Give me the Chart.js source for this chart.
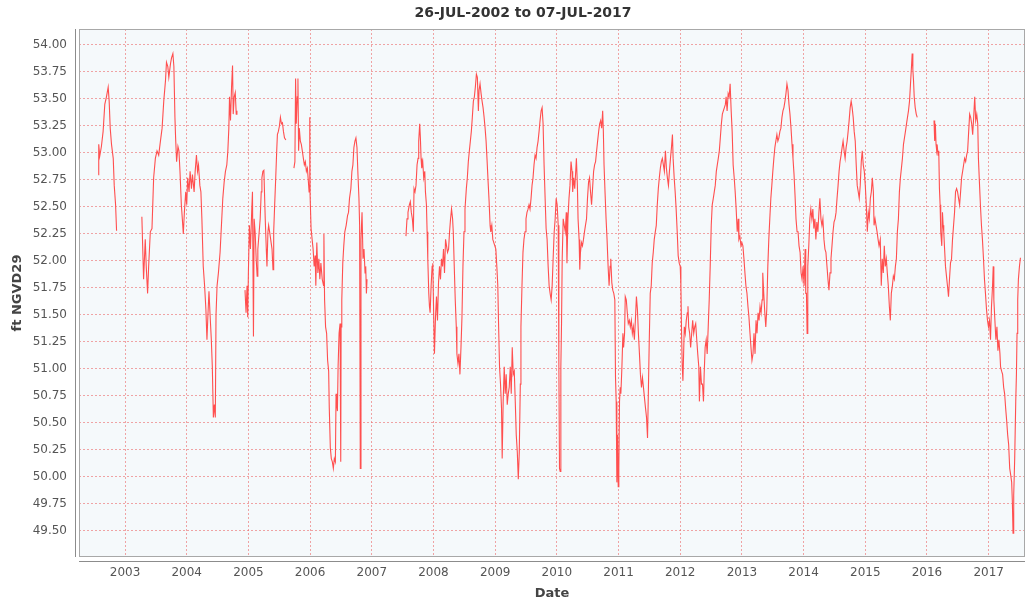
<!DOCTYPE html>
<html>
<head>
<meta charset="utf-8">
<script src="https://cdn.jsdelivr.net/npm/chart.js@4.4.1/dist/chart.umd.min.js"></script>
<style>
  html, body { margin: 0; padding: 0; background: #ffffff; }
  #wrap { width: 1029px; height: 602px; }
</style>
</head>
<body>
<div id="wrap"><canvas id="c" width="1029" height="602"></canvas></div>
<script>
// ---- data: each entry is [decimal year, water level (ft NGVD29)] ----
const chartTitle = '26-JUL-2002 to 07-JUL-2017';
const yAxisTitle = 'ft NGVD29';
const xAxisTitle = 'Date';
const yearTicks = [2003, 2004, 2005, 2006, 2007, 2008, 2009, 2010, 2011, 2012, 2013, 2014, 2015, 2016, 2017];
const levelTicks = [49.5, 49.75, 50, 50.25, 50.5, 50.75, 51, 51.25, 51.5, 51.75, 52, 52.25, 52.5, 52.75, 53, 53.25, 53.5, 53.75, 54];

const run2002 = [
  [2002.566,52.80],[2002.574,53.08],[2002.590,52.97],[2002.617,53.06],[2002.645,53.20],[2002.672,53.45],
  [2002.699,53.52],[2002.727,53.61],[2002.743,53.48],[2002.760,53.23],[2002.781,53.08],[2002.809,52.95],
  [2002.825,52.70],[2002.847,52.52],[2002.863,52.28]
];

const run2003 = [
  [2003.273,52.41],[2003.301,51.83],[2003.328,52.20],[2003.344,51.95],[2003.366,51.70],[2003.383,51.95],
  [2003.410,52.27],[2003.437,52.30],[2003.464,52.77],[2003.492,52.95],[2003.519,53.02],[2003.546,52.98],
  [2003.574,53.11],[2003.601,53.23],[2003.628,53.48],[2003.656,53.67],[2003.672,53.84],[2003.694,53.80],
  [2003.710,53.70],[2003.738,53.83],[2003.754,53.88],[2003.776,53.92],[2003.792,53.80],[2003.809,53.33],
  [2003.820,53.14],[2003.836,52.92],[2003.858,53.06],[2003.874,53.02],[2003.891,52.83],[2003.913,52.52],
  [2003.929,52.39],[2003.945,52.25],[2003.962,52.45],[2003.984,52.64],[2004.000,52.52],[2004.016,52.77],
  [2004.038,52.64],[2004.055,52.83],[2004.077,52.67],[2004.093,52.80],[2004.120,52.64],[2004.137,52.83],
  [2004.158,52.98],[2004.175,52.83],[2004.191,52.89],[2004.213,52.70],[2004.230,52.64],[2004.246,52.39],
  [2004.268,51.95],[2004.290,51.77],[2004.311,51.55],[2004.328,51.27],[2004.344,51.50],[2004.361,51.72],
  [2004.377,51.52],[2004.399,51.27],[2004.415,51.02],[2004.432,50.55],[2004.448,50.67],[2004.464,50.55],
  [2004.475,51.50],[2004.492,51.77],[2004.514,51.89],[2004.541,52.08],[2004.563,52.33],[2004.585,52.58],
  [2004.607,52.73],[2004.628,52.83],[2004.650,52.89],[2004.667,53.02],[2004.683,53.23],[2004.694,53.52],
  [2004.710,53.30],[2004.727,53.61],[2004.743,53.81],[2004.754,53.36],[2004.770,53.52],[2004.787,53.56],
  [2004.803,53.36],[2004.814,53.39]
];

const run2005 = [
  [2004.945,51.73],[2004.962,51.52],[2004.978,51.77],[2004.989,51.48],[2005.000,51.90],[2005.016,52.33],
  [2005.033,52.11],[2005.055,52.48],[2005.066,52.64],[2005.082,51.30],[2005.093,52.39],[2005.109,52.27],
  [2005.126,52.02],[2005.142,51.86],[2005.153,52.11],[2005.175,52.27],[2005.191,52.39],[2005.208,52.64],
  [2005.219,52.77],[2005.235,52.83],[2005.251,52.84],[2005.262,52.61],[2005.273,52.39],[2005.290,52.11],
  [2005.301,51.95],[2005.317,52.27],[2005.328,52.33],[2005.344,52.27],[2005.361,52.20],[2005.383,52.11],
  [2005.399,51.92],[2005.410,52.27],[2005.426,52.52],[2005.443,52.77],[2005.459,53.02],[2005.470,53.17],
  [2005.486,53.20],[2005.503,53.25],[2005.519,53.33],[2005.536,53.27],[2005.552,53.28],[2005.568,53.20],
  [2005.585,53.14],[2005.607,53.12]
];

const run2006 = [
  [2005.738,52.86],[2005.754,52.92],[2005.765,53.69],[2005.776,53.27],[2005.792,53.52],[2005.803,53.69],
  [2005.814,53.02],[2005.825,53.23],[2005.842,53.11],[2005.858,53.08],[2005.874,53.02],[2005.891,52.95],
  [2005.907,52.89],[2005.923,52.92],[2005.940,52.83],[2005.956,52.86],[2005.973,52.73],[2005.984,52.64],
  [2005.995,53.33],[2006.000,52.61],[2006.016,52.30],[2006.033,52.20],[2006.049,52.11],[2006.066,51.95],
  [2006.082,52.05],[2006.093,51.77],[2006.109,52.17],[2006.126,51.89],[2006.142,52.02],[2006.158,51.83],
  [2006.175,51.98],[2006.197,51.83],[2006.219,51.77],[2006.224,52.25],[2006.235,51.64],[2006.251,51.39],
  [2006.268,51.33],[2006.284,51.08],[2006.301,50.98],[2006.311,50.64],[2006.328,50.27],[2006.344,50.17],
  [2006.361,50.14],[2006.377,50.08],[2006.393,50.17],[2006.410,50.14],[2006.421,50.77],[2006.432,50.67],
  [2006.443,50.61],[2006.454,51.02],[2006.470,51.33],[2006.486,51.42],[2006.497,50.14],[2006.503,51.39],
  [2006.514,51.64],[2006.530,51.98],[2006.546,52.14],[2006.563,52.27],[2006.585,52.33],[2006.607,52.42],
  [2006.623,52.45],[2006.639,52.58],[2006.661,52.67],[2006.678,52.83],[2006.694,52.89],[2006.710,53.05],
  [2006.727,53.11],[2006.743,53.14],[2006.760,53.05],[2006.776,52.80],[2006.792,52.58],[2006.803,52.33],
  [2006.814,50.08],[2006.825,52.20],[2006.842,52.45],[2006.858,52.02],[2006.874,52.11],[2006.891,51.89],
  [2006.902,51.95],[2006.913,51.70],[2006.923,51.83]
];

const run2007 = [
  [2007.554,52.23],[2007.571,52.39],[2007.587,52.45],[2007.609,52.52],[2007.625,52.55],[2007.641,52.45],
  [2007.658,52.39],[2007.674,52.27],[2007.685,52.67],[2007.701,52.64],[2007.717,52.70],[2007.734,52.89],
  [2007.750,52.95],[2007.761,53.11],[2007.777,53.27],[2007.788,53.14],[2007.799,52.95],[2007.810,52.86],
  [2007.826,52.92],[2007.842,52.77],[2007.859,52.83],[2007.870,52.64],[2007.886,52.52],[2007.897,52.27],
  [2007.908,52.02],[2007.924,51.70],[2007.935,51.58],[2007.946,51.52],[2007.962,51.77],[2007.978,51.95],
  [2007.989,51.98],[2008.005,51.45],[2008.016,51.14],[2008.033,51.48],[2008.049,51.67],[2008.065,51.45],
  [2008.082,51.80],[2008.098,51.95],[2008.114,51.83],[2008.130,52.02],[2008.147,51.95],[2008.163,52.11],
  [2008.179,51.89],[2008.196,52.20],[2008.212,52.14],[2008.228,52.08],[2008.245,52.11],[2008.261,52.27],
  [2008.277,52.39],[2008.293,52.48],[2008.310,52.39],[2008.321,52.27],[2008.337,51.95],[2008.353,51.64],
  [2008.370,51.39],[2008.380,51.14],[2008.397,51.05],[2008.413,51.14],[2008.429,50.95],[2008.446,51.20],
  [2008.462,51.48],[2008.478,51.95],[2008.495,52.27],[2008.511,52.48],[2008.533,52.67],[2008.549,52.77],
  [2008.565,52.92],[2008.582,53.02],[2008.598,53.11],[2008.614,53.20],[2008.630,53.33],[2008.647,53.48],
  [2008.663,53.52],[2008.679,53.61],[2008.696,53.73],[2008.712,53.70],[2008.728,53.39],[2008.739,53.58],
  [2008.755,53.64],[2008.772,53.55],[2008.788,53.48],[2008.804,53.42],[2008.821,53.33],[2008.837,53.23],
  [2008.853,53.11],[2008.870,52.92],[2008.886,52.73],[2008.902,52.55],[2008.918,52.33],[2008.929,52.27],
  [2008.946,52.33],[2008.962,52.20],[2008.978,52.17],[2008.995,52.14],[2009.011,52.11],[2009.027,51.95],
  [2009.043,51.77],[2009.054,51.45],[2009.071,51.02],[2009.087,50.86],[2009.103,50.64],[2009.114,50.17],
  [2009.130,50.70],[2009.147,51.02],[2009.163,50.77],[2009.179,50.95],[2009.196,50.67],[2009.212,50.77],
  [2009.228,50.83],[2009.245,51.02],[2009.261,50.77],[2009.277,51.20],[2009.293,50.95],[2009.310,50.98],
  [2009.326,50.70],[2009.342,50.39],[2009.359,50.23],[2009.375,49.98],[2009.391,50.23],[2009.408,50.86],
  [2009.418,51.39],[2009.435,51.77],[2009.451,52.08],[2009.467,52.20],[2009.484,52.27],[2009.500,52.39],
  [2009.516,52.45],[2009.533,52.48],[2009.549,52.52],[2009.565,52.48],[2009.582,52.58],[2009.598,52.70],
  [2009.614,52.77],[2009.630,52.89],[2009.647,52.98],[2009.663,52.95],[2009.679,53.05],[2009.696,53.11],
  [2009.712,53.20],[2009.728,53.30],[2009.745,53.39],[2009.761,53.42],[2009.777,53.27],[2009.793,52.89],
  [2009.810,52.58],[2009.826,52.30],[2009.842,52.20],[2009.859,51.95],[2009.875,51.77],[2009.891,51.70],
  [2009.908,51.64],[2009.924,51.77],[2009.940,52.02],[2009.957,52.27],[2009.973,52.39],[2009.989,52.58],
  [2010.005,52.52],[2010.022,52.33],[2010.033,51.02],[2010.043,50.08],[2010.054,50.05],[2010.065,51.02],
  [2010.076,51.42],[2010.087,52.02],[2010.103,52.39],[2010.120,52.33],[2010.137,52.27],[2010.153,52.45],
  [2010.164,51.98],[2010.180,52.39],[2010.197,52.58],[2010.213,52.70],[2010.230,52.92],[2010.246,52.83],
  [2010.257,52.64],[2010.273,52.77],[2010.290,52.67],[2010.306,52.83],[2010.317,52.95],[2010.333,52.70],
  [2010.344,52.39],[2010.361,52.20],[2010.372,51.92],[2010.383,52.08],[2010.399,52.17],[2010.415,52.14],
  [2010.432,52.20],[2010.448,52.27],[2010.464,52.33],[2010.481,52.39],[2010.497,52.58],[2010.514,52.73],
  [2010.530,52.77],[2010.546,52.64],[2010.563,52.52],[2010.579,52.67],[2010.596,52.83],[2010.612,52.89],
  [2010.628,52.92],[2010.645,53.02],[2010.661,53.11],[2010.678,53.20],[2010.694,53.27],[2010.710,53.30],
  [2010.727,53.23],[2010.743,53.39],[2010.754,53.20],[2010.765,52.89],[2010.781,52.64],[2010.798,52.39],
  [2010.814,52.20],[2010.831,51.95],[2010.847,51.77],[2010.863,51.95],[2010.874,52.02],[2010.891,51.80],
  [2010.907,51.73],[2010.923,51.70],[2010.940,51.64],[2010.951,50.92],[2010.962,50.70],[2010.973,49.95],
  [2010.984,50.39],[2010.995,49.91],[2011.005,50.08],[2011.016,50.70],[2011.027,50.83],[2011.038,50.77],
  [2011.055,51.02],[2011.071,51.33],[2011.082,51.20],[2011.098,51.33],[2011.109,51.67],[2011.126,51.64],
  [2011.142,51.52],[2011.158,51.42],[2011.175,51.45],[2011.191,51.39],[2011.208,51.45],[2011.224,51.33],
  [2011.240,51.39],[2011.257,51.27],[2011.273,51.45],[2011.290,51.67],[2011.306,51.55],[2011.322,51.33],
  [2011.339,51.14],[2011.355,50.95],[2011.372,50.83],[2011.388,50.92],[2011.404,50.83],[2011.421,50.73],
  [2011.437,50.64],[2011.454,50.55],[2011.470,50.36],[2011.481,50.70],[2011.497,51.23],[2011.514,51.70],
  [2011.530,51.77],[2011.546,51.98],[2011.563,52.08],[2011.579,52.20],[2011.596,52.27],[2011.612,52.33],
  [2011.628,52.52],[2011.645,52.67],[2011.661,52.77],[2011.678,52.86],[2011.694,52.92],[2011.710,52.95],
  [2011.727,52.89],[2011.743,52.83],[2011.760,53.02],[2011.776,52.86],[2011.792,52.77],[2011.809,52.70],
  [2011.825,52.83],[2011.842,52.95],[2011.858,53.05],[2011.874,53.17],[2011.885,52.95],[2011.902,52.77],
  [2011.918,52.64],[2011.934,52.48],[2011.951,52.27],[2011.967,52.05],[2011.984,51.98],[2012.000,51.95],
  [2012.011,51.77],[2012.022,51.33],[2012.033,51.02],[2012.044,50.89],[2012.055,51.14],[2012.066,51.39],
  [2012.082,51.33],[2012.098,51.45],[2012.115,51.52],[2012.126,51.58],[2012.137,51.39],[2012.153,51.33],
  [2012.169,51.20],[2012.186,51.33],[2012.202,51.45],[2012.219,51.33],[2012.235,51.39],[2012.251,51.42],
  [2012.268,51.27],[2012.284,51.14],[2012.301,51.02],[2012.311,50.70],[2012.328,51.02],[2012.344,50.86],
  [2012.361,50.86],[2012.377,50.70],[2012.388,50.95],[2012.404,51.20],[2012.421,51.27],[2012.437,51.14],
  [2012.454,51.39],[2012.470,51.64],[2012.486,51.95],[2012.503,52.33],[2012.519,52.52],[2012.536,52.58],
  [2012.552,52.64],[2012.568,52.70],[2012.585,52.83],[2012.601,52.89],[2012.617,52.95],[2012.634,53.02],
  [2012.650,53.14],[2012.667,53.27],[2012.683,53.36],[2012.699,53.39],[2012.716,53.42],[2012.732,53.45],
  [2012.744,53.52],[2012.760,53.39],[2012.777,53.55],[2012.793,53.52],[2012.809,53.64],[2012.826,53.39],
  [2012.842,53.20],[2012.858,52.89],[2012.875,52.77],[2012.891,52.64],[2012.907,52.48],[2012.924,52.27],
  [2012.940,52.39],[2012.951,52.20],[2012.967,52.23],[2012.984,52.14],[2013.000,52.17],[2013.016,52.14],
  [2013.033,52.02],[2013.049,51.89],[2013.065,51.77],[2013.082,51.70],[2013.098,51.58],[2013.114,51.48],
  [2013.131,51.33],[2013.147,51.20],[2013.163,51.08],[2013.180,51.14],[2013.196,51.33],[2013.213,51.14],
  [2013.229,51.45],[2013.245,51.33],[2013.262,51.52],[2013.278,51.45],[2013.294,51.58],[2013.311,51.52],
  [2013.327,51.64],[2013.338,51.89],[2013.354,51.70],[2013.371,51.52],[2013.387,51.39],[2013.403,51.55],
  [2013.420,51.95],[2013.436,52.20],[2013.452,52.39],[2013.469,52.58],[2013.485,52.70],[2013.501,52.83],
  [2013.518,52.95],[2013.534,53.05],[2013.550,53.11],[2013.567,53.17],[2013.583,53.11],[2013.599,53.14],
  [2013.616,53.20],[2013.632,53.23],[2013.649,53.33],[2013.665,53.39],[2013.681,53.42],[2013.698,53.48],
  [2013.714,53.55],[2013.730,53.64],[2013.747,53.58],[2013.763,53.45],[2013.779,53.36],[2013.796,53.23],
  [2013.812,53.08],[2013.828,52.95],[2013.845,52.80],[2013.861,52.61],[2013.877,52.39],[2013.894,52.27],
  [2013.910,52.27],[2013.926,52.14],[2013.943,52.08],[2013.959,51.89],[2013.975,51.83],[2013.992,51.95],
  [2014.008,51.77],[2014.025,52.11],[2014.035,51.70],[2014.046,51.70],[2014.057,51.33],[2014.068,51.95],
  [2014.084,52.14],[2014.101,52.39],[2014.117,52.48],[2014.134,52.39],[2014.150,52.48],[2014.166,52.30],
  [2014.183,52.39],[2014.199,52.20],[2014.215,52.36],[2014.232,52.27],[2014.248,52.45],[2014.264,52.58],
  [2014.281,52.39],[2014.297,52.33],[2014.313,52.39],[2014.330,52.20],[2014.346,52.11],[2014.362,52.08],
  [2014.379,51.95],[2014.395,51.83],[2014.411,51.73],[2014.428,51.89],[2014.444,52.02],[2014.460,52.14],
  [2014.477,52.27],[2014.493,52.36],[2014.510,52.39],[2014.526,52.45],[2014.542,52.58],[2014.559,52.70],
  [2014.575,52.83],[2014.591,52.92],[2014.608,52.98],[2014.624,53.05],[2014.640,53.11],[2014.657,53.02],
  [2014.673,52.95],[2014.689,53.05],[2014.706,53.11],[2014.722,53.20],[2014.738,53.30],[2014.755,53.42],
  [2014.771,53.48],[2014.787,53.42],[2014.804,53.33],[2014.820,53.20],[2014.837,53.11],[2014.853,52.89],
  [2014.869,52.70],[2014.886,52.64],[2014.902,52.58],[2014.918,52.70],[2014.935,52.92],[2014.951,53.02],
  [2014.967,52.89],[2014.984,52.83],[2015.000,52.70],[2015.016,52.52],[2015.033,52.27],[2015.049,52.45],
  [2015.065,52.39],[2015.082,52.58],[2015.098,52.64],[2015.114,52.77],[2015.131,52.64],[2015.142,52.33],
  [2015.158,52.39],[2015.174,52.33],[2015.191,52.27],[2015.207,52.20],[2015.223,52.14],[2015.243,52.20],
  [2015.259,51.77],[2015.275,52.02],[2015.292,51.89],[2015.308,52.14],[2015.324,51.95],[2015.341,52.02],
  [2015.357,51.89],[2015.373,51.77],[2015.390,51.58],[2015.406,51.45],[2015.422,51.70],[2015.439,51.77],
  [2015.455,51.86],[2015.471,51.83],[2015.488,51.95],[2015.504,52.02],[2015.520,52.27],[2015.537,52.39],
  [2015.553,52.64],[2015.569,52.77],[2015.586,52.86],[2015.602,52.95],[2015.619,53.08],[2015.635,53.14],
  [2015.651,53.20],[2015.668,53.27],[2015.684,53.33],[2015.700,53.39],[2015.717,53.48],[2015.733,53.64],
  [2015.749,53.80],[2015.760,53.92],[2015.771,53.77],[2015.782,53.67],[2015.793,53.52],[2015.809,53.42],
  [2015.826,53.36],[2015.842,53.33]
];

const run2016 = [
  [2016.114,53.30],[2016.125,53.11],[2016.136,53.27],[2016.147,53.08],[2016.158,53.02],[2016.169,53.05],
  [2016.180,52.98],[2016.191,53.02],[2016.202,52.67],[2016.213,52.52],[2016.223,52.27],[2016.240,52.14],
  [2016.251,52.45],[2016.262,52.33],[2016.272,52.27],[2016.283,52.14],[2016.300,51.95],[2016.316,51.86],
  [2016.332,51.77],[2016.349,51.67],[2016.365,51.83],[2016.381,51.98],[2016.398,52.02],[2016.414,52.20],
  [2016.431,52.33],[2016.447,52.45],[2016.463,52.64],[2016.480,52.67],[2016.496,52.64],[2016.512,52.58],
  [2016.529,52.52],[2016.545,52.64],[2016.561,52.77],[2016.578,52.83],[2016.594,52.89],[2016.610,52.95],
  [2016.627,52.92],[2016.643,52.98],[2016.659,53.02],[2016.676,53.20],[2016.692,53.36],[2016.708,53.33],
  [2016.725,53.27],[2016.741,53.17],[2016.757,53.33],[2016.774,53.52],[2016.790,53.30],[2016.807,53.36],
  [2016.823,53.27],[2016.834,52.95],[2016.850,52.73],[2016.866,52.52],[2016.883,52.33],[2016.899,52.20],
  [2016.916,52.02],[2016.932,51.83],[2016.948,51.70],[2016.965,51.55],[2016.981,51.45],[2016.997,51.39],
  [2017.014,51.45],[2017.030,51.27],[2017.046,51.58],[2017.063,51.77],[2017.074,51.95],[2017.084,51.64],
  [2017.101,51.45],[2017.117,51.27],[2017.134,51.39],[2017.150,51.17],[2017.166,51.27],[2017.183,51.14],
  [2017.193,51.02],[2017.210,50.98],[2017.226,50.95],[2017.243,50.83],[2017.259,50.77],[2017.275,50.64],
  [2017.292,50.52],[2017.308,50.39],[2017.324,50.30],[2017.341,50.08],[2017.357,50.02],[2017.373,49.95],
  [2017.384,49.77],[2017.395,49.48],[2017.406,49.83],[2017.422,50.17],[2017.439,50.70],[2017.450,50.95],
  [2017.460,51.33],[2017.471,51.64],[2017.482,51.83],[2017.499,51.95],[2017.515,52.03]
];

// records are separated by gaps in the record (no data)
const runs = [run2002, run2003, run2005, run2006, run2007, run2016];

const points = [];
runs.forEach((run, i) => {
  if (i > 0) {
    const prev = runs[i - 1];
    points.push({ x: (prev[prev.length - 1][0] + run[0][0]) / 2, y: null });
  }
  run.forEach(([d, v]) => points.push({ x: d, y: v }));
});

const FONT = "'DejaVu Sans', 'Liberation Sans', sans-serif";
const gridColor = 'rgba(236,110,110,0.62)';

const framePlugin = {
  id: 'frame',
  beforeDraw(chart) {
    const { ctx, chartArea: a } = chart;
    ctx.save();
    ctx.fillStyle = '#f5f9fb';
    ctx.fillRect(a.left, a.top, a.right - a.left, a.bottom - a.top);
    ctx.restore();
  },
  afterDraw(chart) {
    const { ctx, chartArea: a } = chart;
    ctx.save();
    ctx.lineWidth = 1;
    ctx.strokeStyle = '#a8a8a8';
    ctx.strokeRect(Math.round(a.left) + 0.5, Math.round(a.top) + 0.5,
                   Math.round(a.right - a.left) - 1, Math.round(a.bottom - a.top) - 1);
    ctx.strokeStyle = '#8c8c8c';
    ctx.beginPath();
    const ax = Math.round(a.left) - 3.5;
    ctx.moveTo(ax, a.top);
    ctx.lineTo(ax, a.bottom);
    const ay = Math.round(a.bottom) + 4.5;
    ctx.moveTo(a.left, ay);
    ctx.lineTo(a.right, ay);
    ctx.stroke();
    ctx.restore();
  }
};

new Chart(document.getElementById('c'), {
  type: 'line',
  data: {
    datasets: [{
      label: 'Stage',
      data: points,
      borderColor: '#ff4f4f',
      borderWidth: 1.1,
      pointRadius: 0,
      tension: 0,
      spanGaps: false,
      fill: false
    }]
  },
  options: {
    responsive: false,
    devicePixelRatio: 1,
    animation: false,
    layout: { padding: { left: 21, right: 4, top: 0, bottom: 0 } },
    plugins: {
      legend: { display: false },
      tooltip: { enabled: false },
      title: {
        display: true,
        text: chartTitle,
        color: '#333333',
        font: { family: FONT, size: 14, weight: 'bold' },
        padding: { top: 4.5, bottom: 7.7 }
      }
    },
    scales: {
      x: {
        type: 'linear',
        min: 2002.254,
        max: 2017.589,
        afterBuildTicks(scale) { scale.ticks = yearTicks.map(v => ({ value: v })); },
        afterFit(scale) { scale.height = 45; },
        ticks: {
          autoSkip: false,
          maxRotation: 0,
          padding: 9,
          color: '#555555',
          font: { family: FONT, size: 12 },
          callback: v => String(v)
        },
        grid: { color: gridColor, lineWidth: 1, drawTicks: false },
        border: { display: false, dash: [2, 2] },
        title: {
          display: true,
          text: xAxisTitle,
          color: '#444444',
          font: { family: FONT, size: 13, weight: 'bold' },
          padding: { top: 0, bottom: 1 }
        }
      },
      y: {
        type: 'linear',
        min: 49.259,
        max: 54.148,
        afterBuildTicks(scale) { scale.ticks = levelTicks.map(v => ({ value: v })); },
        afterFit(scale) { scale.width = 58; },
        ticks: {
          padding: 12,
          color: '#555555',
          font: { family: FONT, size: 12 },
          callback: v => Number(v).toFixed(2)
        },
        grid: { color: gridColor, lineWidth: 1, drawTicks: false },
        border: { display: false, dash: [2, 2] },
        title: {
          display: true,
          text: yAxisTitle,
          color: '#444444',
          font: { family: FONT, size: 13, weight: 'bold' },
          padding: { top: -11, bottom: 0 }
        }
      }
    }
  },
  plugins: [framePlugin]
});
</script>
</body>
</html>
